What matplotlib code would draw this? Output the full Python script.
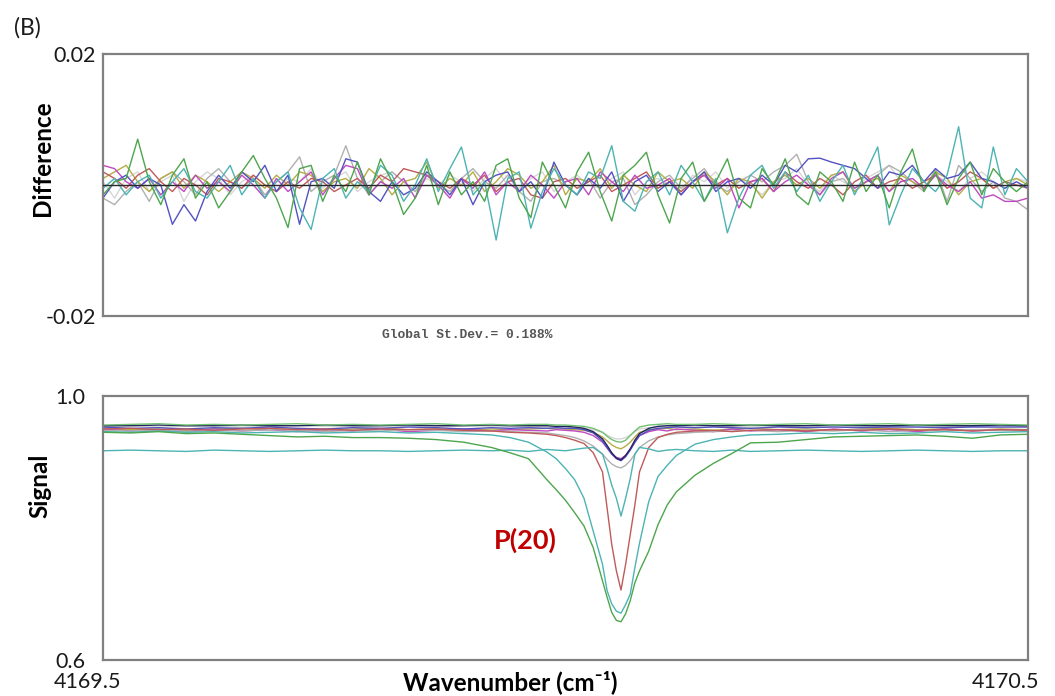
import numpy as np
import matplotlib
matplotlib.use("Agg")
import matplotlib.pyplot as plt

plt.rcParams['font.family'] = ['Lato', 'DejaVu Sans']

# ---------------- data ----------------
WN_MIN, WN_MAX = 4169.5, 4170.5
DIFF_NPTS = 81  # evenly sampled residual spectrum

# residuals (units of 1e-3)
diff_green = [-1.5, 0.5, 1.0, 7.0, 0.5, -3.0, 1.5, 4.0, -2.0, 0.5,
              -3.5, -1.0, 2.0, 4.5, 1.0, -2.0, -6.5, 2.5, 3.0, -2.5,
              1.5, -1.0, 3.5, -1.5, 4.0, 0.5, -4.5, -2.0, 3.0, -3.0,
              2.0, -1.5, 0.5, -2.5, 3.0, 4.0, -2.0, -5.0, 3.5, 0.0,
              -3.5, 2.0, 5.0, -1.0, -5.5, 1.5, 3.0, 5.0, -1.5, -5.8,
              1.0, 3.5, -2.5, 0.5, 4.0, -2.0, -3.5, 2.5, 0.0, 4.0,
              -1.5, -3.0, 2.0, 0.5, -2.5, 3.5, -1.0, 1.5, -3.5, 2.0,
              5.5, -1.0, 2.0, -3.0, 1.0, 3.5, -1.5, 2.5, 0.5, -1.0,
              0.5]
diff_teal = [-0.5, 1.0, -1.5, 0.5, 1.5, -2.0, 0.5, 2.5, -1.0, -2.0,
             0.5, 3.0, -1.5, 1.0, -2.0, 0.5, 2.0, -3.5, -6.8, 1.0,
             2.5, -2.0, 0.5, -1.0, 3.0, 1.5, -2.5, 0.0, 4.0, -1.0,
             2.5, 5.8, -1.5, 0.5, -8.4, 1.0, 2.0, -6.6, -1.0, 2.5,
             0.0, -1.5, 2.0, 1.0, 6.0, -2.5, -4.0, 0.5, 2.0, -1.5,
             3.0, 0.5, -2.5, 1.0, -7.3, -2.0, 1.5, 3.0, -0.5, 2.0,
             -1.0, 1.5, -2.5, 0.5, 3.0, -1.5, 2.0, 5.8, -6.1, -1.5,
             2.5, 0.5, -1.0, 1.5, 8.9, -2.0, -3.5, 5.8, -1.5, 2.5,
             0.5]
diff_blue = [-2.0, 0.5, 1.5, -0.5, 1.0, 0.0, -6.0, -3.0, -5.5, -1.0,
             1.5, -0.5, 2.0, 0.5, 3.0, -1.0, 1.5, -6.0, 0.5, 1.0,
             -0.5, 4.0, 3.5, -1.0, -2.5, 0.5, -1.5, -0.5, 2.0, 0.5,
             -1.5, 1.0, -3.0, 0.5, 1.5, 2.0, -1.0, 0.5, -2.0, 3.5,
             0.0, -1.5, 1.0, -0.5, 2.0, -2.5, 0.5, 1.5, -1.0, 0.5,
             -1.5, 0.5, 2.0, -1.0, 0.5, 1.0, -0.5, 1.5, 0.0, 3.0,
             2.0, 4.0, 4.1, 3.5, 3.0, 2.5, 1.0, -0.5, 2.0, 1.5,
             3.0, 0.5, 2.5, 1.0, 1.5, 3.5, 1.0, 0.5, -0.5, 0.5,
             -0.5]
diff_magenta = [3.0, 2.5, 0.5, -0.5, 1.0, -1.5, 0.5, -1.0, 1.5, -0.5,
                0.5, -1.0, 1.5, 0.0, -2.0, 1.0, -1.0, 0.5, 2.0, -1.5,
                1.0, 3.0, 2.5, -1.5, 0.5, -0.5, 1.0, -2.0, 1.5, 0.0,
                -2.0, 1.0, -0.5, 2.0, -1.5, 0.5, -1.0, 1.5, 0.0, -2.0,
                0.5, 1.0, -1.5, 2.0, 0.5, -1.0, 1.5, -0.5, 0.0, 1.0,
                -1.5, 0.5, 1.5, -0.5, 1.0, -3.5, 0.5, 1.0, -1.0, 0.5,
                1.5, 0.0, -1.5, 1.0, 2.0, -0.5, 0.5, 1.5, -1.0, 0.5,
                1.0, -0.5, 1.5, 0.0, -1.0, 0.5, -2.0, -1.5, -2.5, -2.5,
                -2.0]
diff_red = [2.0, 1.0, -0.5, 1.5, 2.5, 0.5, -1.0, 1.0, 0.0, -1.5,
            1.0, 0.5, -0.5, 1.5, 0.0, -1.0, 0.5, -0.5, 1.0, 0.5,
            -1.0, 0.0, 1.0, -0.5, 1.5, 0.5, 2.5, 2.0, 1.5, 0.5,
            -0.5, 1.0, 0.0, 1.5, -1.0, 0.5, 1.0, -1.5, -2.0, 0.5,
            1.0, -0.5, 0.5, 1.5, -1.0, 0.0, 1.0, 2.0, -0.5, 0.5,
            -1.0, 0.5, 1.5, 0.0, 1.0, -0.5, 0.5, 1.0, -1.0, 2.0,
            0.5, -0.5, 1.0, 0.0, -1.5, 0.5, 1.5, -0.5, 0.5, 1.0,
            -0.5, 0.5, 1.5, -0.5, 0.5, 2.0, 1.0, -0.5, 0.5, 0.0,
            -0.5]
diff_olive = [1.0, 2.0, 3.0, 0.5, -1.0, 1.0, 2.0, -0.5, 1.5, 0.5,
              -1.0, 0.5, 2.0, 1.0, -0.5, 1.5, 0.0, 2.0, 1.5, -1.0,
              0.5, 1.0, -0.5, 2.5, 1.0, -1.5, 0.5, 1.0, 3.5, -0.5,
              1.0, 0.0, 2.0, -1.0, 0.5, 2.5, 1.5, -0.5, 0.5, 3.0,
              -1.5, 1.0, 0.5, 2.5, -0.5, 1.5, 0.0, -1.0, 2.0, 0.5,
              1.0, -0.5, 2.0, 0.5, -1.5, 1.0, 0.5, -2.0, 0.5, 1.5,
              0.0, 1.0, -0.5, 1.5, 2.0, -1.0, 0.5, 1.0, -1.0, 1.5,
              0.5, -0.5, 2.0, 1.0, -1.5, 0.5, 1.0, -0.5, 0.5, 1.0,
              0.0]
diff_gray = [-2.0, -3.0, -1.0, 0.5, -2.5, 1.0, 2.0, 0.5, -1.5, 1.0,
             2.5, 0.5, -0.5, 1.0, -1.5, 0.5, 2.0, 4.3, -1.0, 0.5,
             1.5, 6.0, 1.0, -1.5, 0.5, 2.0, 0.5, -1.0, 1.5, 0.0,
             -1.0, 1.0, 2.5, 0.5, -0.5, 1.5, -1.0, -2.5, 0.5, 1.0,
             0.0, -1.5, 1.0, -2.0, 0.5, 1.0, -3.0, -1.5, 0.5, 1.5,
             -0.5, 1.0, 2.5, 0.0, -1.0, 0.5, 1.5, 0.5, 2.0, 3.0,
             4.7, 0.5, -1.5, 0.5, 1.0, -1.0, 0.5, 1.5, 3.0, 2.0,
             0.5, -1.0, 2.5, -2.5, 3.0, 1.0, -1.0, 0.5, -2.0, -2.5,
             -3.8]
diff_lightgray = [0.5, -2.0, 1.0, 2.0, -1.0, 0.5, 1.5, -2.5, 0.5, 2.0,
                  1.0, -1.5, 0.5, 1.5, 0.0, -1.0, 1.0, 0.5, 2.5, -0.5,
                  1.0, 2.0, -1.0, 0.5, 1.5, 2.0, 0.5, -1.0, 1.0, 0.0,
                  1.5, 0.5, -1.0, 1.0, 2.5, 0.0, -0.5, 1.0, 2.0, -1.0,
                  0.5, 1.5, 0.0, -0.5, 1.0, 2.0, -1.5, 0.5, 1.0, 0.0,
                  -1.0, 1.5, 0.5, 2.0, -0.5, 1.0, 0.0, -1.5, 0.5, 1.0,
                  2.5, 0.0, -1.0, 1.5, 0.5, -0.5, 1.0, 2.0, 3.0, 0.5,
                  1.0, -0.5, 1.5, 0.5, -1.0, 1.0, 2.0, 0.5, -0.5, 1.0,
                  0.5]

# signal spectra (shared wavenumber grid)
sig_wn = [4169.50, 4169.53, 4169.56, 4169.59, 4169.62, 4169.65, 4169.68, 4169.71, 4169.74, 4169.77,
          4169.80, 4169.83, 4169.86, 4169.89, 4169.92, 4169.94, 4169.96, 4169.98, 4169.99, 4170.00,
          4170.01, 4170.02, 4170.03, 4170.04, 4170.045, 4170.05, 4170.055, 4170.06, 4170.065, 4170.07,
          4170.075, 4170.08, 4170.09, 4170.10, 4170.11, 4170.12, 4170.14, 4170.16, 4170.18, 4170.20,
          4170.23, 4170.26, 4170.29, 4170.32, 4170.35, 4170.38, 4170.41, 4170.44, 4170.47, 4170.50]

sig_green_wide = [0.945, 0.944, 0.946, 0.943, 0.944, 0.942, 0.940, 0.938, 0.939, 0.937,
                  0.937, 0.936, 0.934, 0.930, 0.922, 0.914, 0.905, 0.873, 0.858, 0.842,
                  0.823, 0.803, 0.770, 0.720, 0.695, 0.672, 0.660, 0.658, 0.670, 0.690,
                  0.717, 0.735, 0.765, 0.805, 0.835, 0.855, 0.880, 0.898, 0.913, 0.929,
                  0.930, 0.934, 0.938, 0.939, 0.940, 0.941, 0.939, 0.936, 0.941, 0.942]
sig_teal_wide = [0.946, 0.945, 0.947, 0.945, 0.946, 0.944, 0.945, 0.946, 0.944, 0.945,
                 0.946, 0.944, 0.945, 0.943, 0.941, 0.937, 0.930, 0.915, 0.905, 0.890,
                 0.873, 0.845, 0.795, 0.745, 0.705, 0.685, 0.674, 0.671, 0.684, 0.700,
                 0.740, 0.777, 0.840, 0.878, 0.895, 0.910, 0.927, 0.934, 0.938, 0.941,
                 0.942, 0.944, 0.943, 0.945, 0.943, 0.944, 0.946, 0.944, 0.945, 0.946]
sig_red = [0.950, 0.951, 0.949, 0.950, 0.948, 0.950, 0.951, 0.949, 0.950, 0.948,
           0.950, 0.949, 0.950, 0.948, 0.947, 0.945, 0.944, 0.942, 0.940, 0.937,
           0.933, 0.928, 0.914, 0.885, 0.830, 0.775, 0.735, 0.706, 0.745, 0.790,
           0.835, 0.885, 0.922, 0.937, 0.942, 0.945, 0.947, 0.948, 0.946, 0.948,
           0.949, 0.947, 0.949, 0.948, 0.950, 0.948, 0.949, 0.947, 0.949, 0.948]
sig_teal_low = [0.917, 0.918, 0.917, 0.916, 0.918, 0.917, 0.916, 0.917, 0.918, 0.917,
                0.917, 0.916, 0.917, 0.918, 0.917, 0.918, 0.916, 0.919, 0.918, 0.917,
                0.919, 0.921, 0.922, 0.912, 0.890, 0.865, 0.845, 0.818, 0.845, 0.875,
                0.912, 0.922, 0.920, 0.916, 0.918, 0.919, 0.917, 0.916, 0.918, 0.916,
                0.917, 0.918, 0.917, 0.916, 0.917, 0.918, 0.917, 0.916, 0.917, 0.917]
sig_gray = [0.948, 0.947, 0.949, 0.946, 0.948, 0.947, 0.949, 0.948, 0.946, 0.948,
            0.947, 0.949, 0.948, 0.946, 0.947, 0.946, 0.945, 0.944, 0.942, 0.940,
            0.937, 0.932, 0.924, 0.912, 0.904, 0.897, 0.893, 0.891, 0.895, 0.902,
            0.912, 0.922, 0.932, 0.938, 0.941, 0.943, 0.945, 0.946, 0.947, 0.948,
            0.946, 0.948, 0.947, 0.949, 0.946, 0.948, 0.947, 0.949, 0.948, 0.947]
sig_purple = [0.953, 0.951, 0.952, 0.950, 0.952, 0.951, 0.953, 0.951, 0.950, 0.952,
              0.951, 0.953, 0.952, 0.950, 0.952, 0.951, 0.952, 0.951, 0.952, 0.951,
              0.951, 0.949, 0.944, 0.932, 0.922, 0.912, 0.905, 0.902, 0.908, 0.918,
              0.930, 0.940, 0.948, 0.951, 0.952, 0.953, 0.952, 0.953, 0.952, 0.951,
              0.953, 0.952, 0.953, 0.952, 0.953, 0.953, 0.952, 0.953, 0.953, 0.953]
sig_navy = [0.955, 0.955, 0.956, 0.955, 0.955, 0.956, 0.955, 0.955, 0.956, 0.955,
            0.955, 0.956, 0.955, 0.955, 0.956, 0.955, 0.955, 0.955, 0.954, 0.954,
            0.953, 0.951, 0.946, 0.935, 0.925, 0.914, 0.906, 0.903, 0.910, 0.920,
            0.933, 0.943, 0.951, 0.954, 0.955, 0.955, 0.956, 0.955, 0.955, 0.956,
            0.955, 0.955, 0.956, 0.955, 0.955, 0.956, 0.955, 0.955, 0.956, 0.955]
sig_magenta = [0.950, 0.947, 0.949, 0.946, 0.950, 0.947, 0.949, 0.946, 0.949, 0.947,
               0.950, 0.946, 0.948, 0.950, 0.947, 0.949, 0.948, 0.947, 0.949, 0.948,
               0.947, 0.945, 0.940, 0.930, 0.921, 0.912, 0.907, 0.905, 0.910, 0.919,
               0.930, 0.940, 0.946, 0.949, 0.947, 0.950, 0.948, 0.946, 0.950, 0.947,
               0.949, 0.946, 0.950, 0.947, 0.949, 0.946, 0.950, 0.947, 0.949, 0.948]
sig_olive = [0.951, 0.949, 0.950, 0.948, 0.950, 0.951, 0.949, 0.950, 0.948, 0.950,
             0.951, 0.949, 0.950, 0.948, 0.950, 0.949, 0.950, 0.951, 0.950, 0.950,
             0.949, 0.948, 0.945, 0.938, 0.932, 0.926, 0.922, 0.920, 0.924, 0.930,
             0.938, 0.945, 0.949, 0.950, 0.951, 0.949, 0.950, 0.948, 0.950, 0.951,
             0.949, 0.950, 0.948, 0.950, 0.951, 0.949, 0.950, 0.948, 0.950, 0.949]
sig_lightgray = [0.954, 0.955, 0.953, 0.954, 0.955, 0.953, 0.954, 0.955, 0.954, 0.953,
                 0.955, 0.954, 0.953, 0.955, 0.954, 0.954, 0.953, 0.954, 0.953, 0.953,
                 0.952, 0.951, 0.949, 0.945, 0.941, 0.937, 0.935, 0.935, 0.937, 0.941,
                 0.946, 0.950, 0.952, 0.953, 0.954, 0.953, 0.954, 0.955, 0.953, 0.954,
                 0.955, 0.953, 0.954, 0.955, 0.954, 0.953, 0.955, 0.954, 0.953, 0.954]
sig_lightgreen = [0.956, 0.957, 0.958, 0.956, 0.957, 0.956, 0.957, 0.958, 0.956, 0.957,
                  0.956, 0.957, 0.958, 0.956, 0.957, 0.956, 0.957, 0.957, 0.956, 0.956,
                  0.955, 0.954, 0.951, 0.945, 0.939, 0.934, 0.931, 0.930, 0.933, 0.940,
                  0.947, 0.953, 0.956, 0.957, 0.958, 0.957, 0.957, 0.958, 0.957, 0.956,
                  0.957, 0.958, 0.956, 0.957, 0.958, 0.956, 0.957, 0.958, 0.957, 0.956]

diff_ticks = [-0.02, 0.02]
diff_ticklabels = ["-0.02", "0.02"]
sig_ticks = [0.6, 1.0]
sig_ticklabels = ["0.6", "1.0"]
wn_ticks = [4169.5, 4170.5]
wn_ticklabels = ["4169.5", "4170.5"]
global_sd_text = "Global St.Dev.= 0.188%"
peak_label = "P(20)"
peak_label_pos = (4169.957, 0.782)

# ---------------- colours ----------------
C_GREEN = "#4da64d"
C_TEAL = "#4db3b3"
C_BLUE = "#5252c2"
C_MAGENTA = "#c04ac0"
C_RED = "#c05a5a"
C_OLIVE = "#b5ad45"
C_GRAY = "#b0b0b0"
C_LGRAY = "#d6d6d6"
C_NAVY = "#23235e"
C_LGREEN = "#72c072"

W, H = 1055, 696
fig = plt.figure(figsize=(W / 100, H / 100), dpi=100)

def frac_box(x0, y0, x1, y1):
    return [x0 / W, 1 - y1 / H, (x1 - x0) / W, (y1 - y0) / H]

ax1 = fig.add_axes(frac_box(103, 54, 1028, 316))
ax2 = fig.add_axes(frac_box(103, 396, 1028, 660))

for ax in (ax1, ax2):
    for sp in ax.spines.values():
        sp.set_color("#808080")
        sp.set_linewidth(1.6)
    ax.set_xlim(WN_MIN, WN_MAX)
    ax.tick_params(length=0, labelsize=15.5, labelcolor="#1a1a1a")

# ---- top: residuals ----
diff_wn = np.linspace(WN_MIN, WN_MAX, DIFF_NPTS)
top_series = [(diff_lightgray, C_LGRAY), (diff_gray, C_GRAY), (diff_olive, C_OLIVE),
              (diff_red, C_RED), (diff_magenta, C_MAGENTA), (diff_blue, C_BLUE),
              (diff_teal, C_TEAL), (diff_green, C_GREEN)]
for vals, col in top_series:
    ax1.plot(diff_wn, np.array(vals) * 1e-3, color=col, lw=1.0)
ax1.axhline(0, color="#2a2a2a", lw=1.0, zorder=5)
ax1.set_ylim(-0.02, 0.02)
ax1.set_xticks([])
ax1.set_yticks(diff_ticks)
ax1.set_yticklabels(diff_ticklabels)
ax1.tick_params(axis="y", pad=5)

# ---- bottom: signals ----
bottom_series = [(sig_lightgray, C_LGRAY), (sig_olive, C_OLIVE), (sig_magenta, C_MAGENTA),
                 (sig_purple, C_BLUE), (sig_navy, C_NAVY), (sig_lightgreen, C_LGREEN),
                 (sig_gray, C_GRAY), (sig_red, C_RED), (sig_teal_wide, C_TEAL),
                 (sig_teal_low, C_TEAL), (sig_green_wide, C_GREEN)]
for vals, col in bottom_series:
    ax2.plot(sig_wn, vals, color=col, lw=1.0)
ax2.set_ylim(0.6, 1.0)
ax2.set_yticks(sig_ticks)
ax2.set_yticklabels(sig_ticklabels)
ax2.tick_params(axis="y", pad=13)
ax2.set_xticks([])
for xv, lab, dx in zip(wn_ticks, wn_ticklabels, (-15, -22)):
    ax2.annotate(lab, xy=(xv, 0), xycoords=("data", "axes fraction"),
                 xytext=(dx, -22), textcoords="offset pixels",
                 ha="center", va="center", fontsize=15.5, color="#1a1a1a")

ax2.text(peak_label_pos[0], peak_label_pos[1], peak_label, color="#c00000",
         fontsize=19.5, fontweight="bold", ha="center", va="center")

# ---- figure texts ----
def ftext(x, y, s, **kw):
    fig.text(x / W, 1 - y / H, s, **kw)

ftext(27, 28, "(B)", fontsize=16.5, ha="center", va="center", color="#1a1a1a")
ftext(43, 158, "Difference", fontsize=17.5, fontweight="bold", rotation=90,
      ha="center", va="center")
ftext(40, 486, "Signal", fontsize=17.5, fontweight="bold", rotation=90,
      ha="center", va="center")
ftext(510, 682, "Wavenumber (cm\u207b\u00b9)", fontsize=17.5, fontweight="bold",
      ha="center", va="center")
ftext(467, 335, global_sd_text, fontsize=9.3, fontweight="bold",
      family=["Liberation Mono", "DejaVu Sans Mono"], color="#555555",
      ha="center", va="center")

fig.savefig("out.png", dpi=100, facecolor="white")
